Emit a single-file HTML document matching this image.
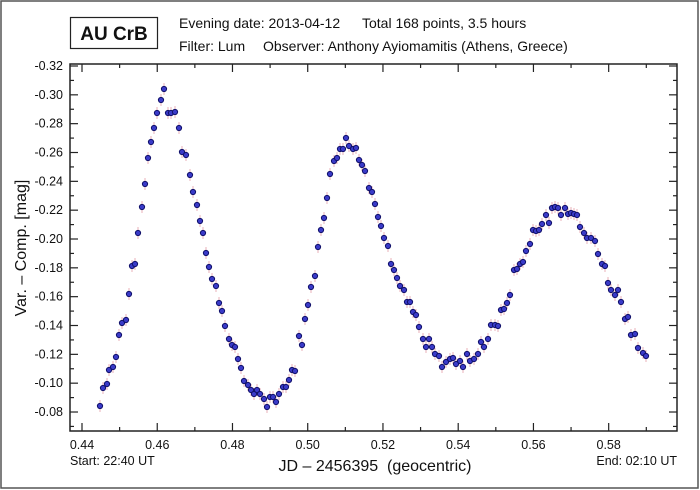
<!DOCTYPE html>
<html><head><meta charset="utf-8"><style>
body{margin:0;background:#fff}
svg{display:block}
text{font-family:"Liberation Sans",Arial,sans-serif;fill:#111}
</style></head><body>
<svg id="s" width="700" height="490" xmlns="http://www.w3.org/2000/svg">
<rect x="1" y="1" width="697" height="487" fill="#fff" stroke="#555" stroke-width="1.5"/>
<rect x="70.5" y="17.5" width="87" height="31" fill="#fff" stroke="#222" stroke-width="1.2"/>
<text x="114" y="40" font-size="19" font-weight="bold" text-anchor="middle">AU CrB</text>
<text x="179" y="28" font-size="14">Evening date: 2013-04-12</text>
<text x="362" y="28" font-size="14">Total 168 points, 3.5 hours</text>
<text x="179" y="51" font-size="14">Filter: Lum</text>
<text x="263" y="51" font-size="14">Observer: Anthony Ayiomamitis (Athens, Greece)</text>
<rect x="70" y="64" width="607" height="367" fill="none" stroke="#222" stroke-width="1.5"/>
<g id="ticks" stroke="#222" stroke-width="1.2"></g>
<g id="lab" font-size="12.5"></g>
<text x="375" y="471" font-size="16" text-anchor="middle">JD – 2456395&#160;&#160;(geocentric)</text>
<text x="70" y="465" font-size="12.5">Start: 22:40 UT</text>
<text x="677" y="465" font-size="12.5" text-anchor="end">End: 02:10 UT</text>
<text transform="translate(26,248) rotate(-90)" font-size="16" text-anchor="middle">Var. – Comp. [mag]</text>
<g id="pts"></g>
</svg>
<script>
var NS="http://www.w3.org/2000/svg";
function el(p,t,a,txt){var e=document.createElementNS(NS,t);for(var k in a)e.setAttribute(k,a[k]);if(txt)e.textContent=txt;p.appendChild(e);return e;}
var T=document.getElementById("ticks"),L=document.getElementById("lab"),P=document.getElementById("pts");
function X(t){return 82+(t-0.44)*3762;}
function Y(m){return 66+(m+0.32)*1441.7;}
for(var i=0;i<=16;i++){var t=0.44+i*0.01;var x=X(t);if(x>676)break;var maj=i%2==0;var l=maj?8:4;
 el(T,"line",{x1:x,y1:431,x2:x,y2:431-l});el(T,"line",{x1:x,y1:64,x2:x,y2:64+l});
 if(maj)el(L,"text",{x:x,y:449,"text-anchor":"middle"},t.toFixed(2));}
for(var i=0;i<=25;i++){var m=-0.32+i*0.01;var y=Y(m);if(y>430)break;var maj=i%2==0;var l=maj?8:4;
 el(T,"line",{x1:70,y1:y,x2:70+l,y2:y});el(T,"line",{x1:677,y1:y,x2:677-l,y2:y});
 if(maj)el(L,"text",{x:63,y:y+4,"text-anchor":"end"},m.toFixed(2));}
var d=[[100,406],[103,388],[107,384],[109,370],[113,367],[116,357],[119,335],[122,323],[126,320],[129,294],[132,266],[135,264],[138,233],[142,207],[145,184],[148,158],[151,142],[154,128],[157,113],[161,100],[164,89],[168,113],[171,113],[175,112],[179,128],[182,152],[186,155],[190,175],[193,192],[197,205],[200,221],[203,233],[206,253],[209,267],[212,279],[216,286],[219,303],[222,311],[225,326],[229,339],[232,345],[235,347],[238,359],[241,368],[244,381],[248,385],[251,390],[254,394],[257,390],[260,394],[264,399],[267,407],[270,397],[273,397],[276,402],[279,394],[283,387],[286,387],[289,380],[292,370],[295,371],[299,336],[302,345],[305,319],[308,305],[311,287],[315,276],[318,247],[321,230],[324,218],[327,198],[330,174],[334,161],[337,158],[340,149],[343,149],[346,138],[349,146],[353,149],[356,148],[359,160],[362,165],[365,171],[369,188],[372,192],[375,204],[378,217],[381,226],[384,238],[388,246],[391,264],[394,270],[397,278],[400,286],[404,290],[407,302],[410,302],[413,312],[416,315],[419,327],[423,339],[426,347],[429,339],[432,347],[435,354],[439,356],[442,367],[446,362],[450,359],[453,358],[456,364],[460,361],[463,367],[467,354],[470,361],[474,359],[478,354],[481,342],[484,347],[488,339],[491,325],[495,325],[498,326],[501,310],[504,309],[507,303],[510,295],[514,270],[517,269],[520,264],[523,262],[526,251],[530,244],[533,230],[536,231],[539,230],[542,224],[546,215],[549,223],[552,208],[555,207],[558,208],[561,215],[565,208],[568,214],[571,213],[574,214],[577,215],[580,227],[584,233],[587,238],[591,238],[595,241],[598,254],[602,264],[605,266],[608,283],[611,290],[615,295],[618,290],[621,302],[625,319],[628,317],[631,335],[635,334],[638,348],[643,353],[646,356]];
d.forEach(function(p){el(P,"line",{x1:p[0],y1:p[1]-6,x2:p[0],y2:p[1]+6,stroke:"#e8b0b8","stroke-width":1});});
d.forEach(function(p){el(P,"circle",{cx:p[0],cy:p[1],r:2.6,fill:"#3a3ac8",stroke:"#10106a","stroke-width":1});});
</script>
</body></html>
